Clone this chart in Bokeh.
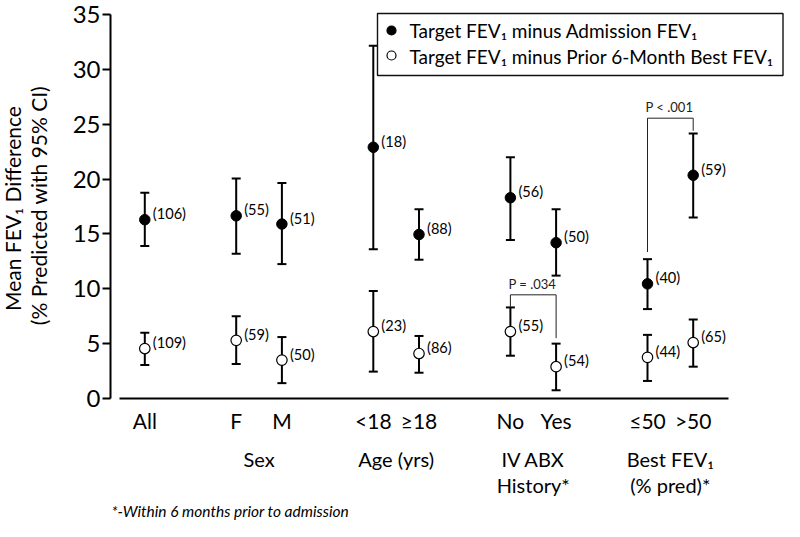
import math
from bokeh.plotting import figure
from bokeh.layouts import row
from bokeh.models import Range1d, FixedTicker, Whisker, ColumnDataSource, TeeHead
from bokeh.core.properties import value
from bokeh.embed import file_html
from bokeh.resources import INLINE

# ---------------- data ----------------
categories = ["All", "F", "M", "<18", "≥18", "No", "Yes", "≤50", ">50"]
cat_pos = [0, 2, 3, 5, 6, 8, 9, 11, 12]

adm_mean = [16.3, 16.65, 15.9, 22.9, 14.95, 18.3, 14.2, 10.45, 20.35]
adm_lower = [13.9, 13.2, 12.25, 13.6, 12.65, 14.45, 11.2, 8.15, 16.5]
adm_upper = [18.75, 20.05, 19.65, 32.15, 17.25, 22.0, 17.25, 12.7, 24.15]
adm_n = [106, 55, 51, 18, 88, 56, 50, 40, 59]

best_mean = [4.55, 5.3, 3.5, 6.1, 4.1, 6.1, 2.9, 3.75, 5.1]
best_lower = [3.05, 3.15, 1.4, 2.45, 2.35, 3.9, 0.75, 1.6, 2.9]
best_upper = [6.0, 7.5, 5.6, 9.8, 5.7, 8.3, 5.0, 5.8, 7.2]
best_n = [109, 59, 50, 23, 86, 55, 54, 44, 65]

group_line1 = ["Sex", "Age (yrs)", "IV ABX", "Best FEV₁"]
group_line2 = ["", "", "History*", "(% pred)*"]
group_pos = [2.5, 5.5, 8.5, 11.5]

y_ticks = [0, 5, 10, 15, 20, 25, 30, 35]

series_names = ["Target FEV₁ minus Admission FEV₁",
                "Target FEV₁ minus Prior 6-Month Best FEV₁"]

ylabel_lines = ["Mean FEV₁ Difference", "(% Predicted with 95% CI)"]

pval_text = ["P = .034", "P < .001"]
bracket_left_x = [8, 11]
bracket_right_x = [9, 12]
bracket_left_y = [8.3, 13.35]
bracket_top_y = [9.45, 25.55]
bracket_right_y = [5.5, 24.4]

footnote = "*-Within 6 months prior to admission"

FONT = "Lato"

# ---------------- layout helpers (canvas pixel -> data) ----------------
W, H = 784, 521
LW = 60                       # width of the narrow title strip on the left
FRAME_LEFT = 110              # canvas x of the y axis (whole layout)


def U(px):                    # canvas x -> category units
    return (px - 144.3) / 45.7


PPV = (398.0 - 14.0) / 35.0


def V(py):                    # canvas y -> value units
    return (398.0 - py) / PPV


# ---------------- y title strip ----------------
lab = figure(width=LW, height=H, x_range=Range1d(0, LW), y_range=Range1d(H, 0),
             output_backend="svg", toolbar_location=None,
             x_axis_location=None, y_axis_location=None, min_border=0)
lab.grid.visible = False
lab.outline_line_color = None
lab.text(x=[11.5, 38], y=[208, 205], text=ylabel_lines,
         angle=math.pi / 2, text_align="center", text_baseline="middle",
         text_font=value(FONT), text_font_size="21px", text_color="black")

# ---------------- main figure ----------------
p = figure(width=W - LW, height=H,
           x_range=Range1d(U(FRAME_LEFT), U(W)),
           y_range=Range1d(V(H), V(0)),
           output_backend="svg", toolbar_location=None,
           x_axis_location=None,
           min_border_left=FRAME_LEFT - LW, min_border_right=0,
           min_border_top=0, min_border_bottom=0)
p.grid.visible = False
p.outline_line_color = None
p.background_fill_color = "white"

ya = p.yaxis[0]
ya.ticker = FixedTicker(ticks=y_ticks)
ya.bounds = (0, 35)
ya.axis_line_width = 2
ya.major_tick_line_width = 2
ya.major_tick_out = 8
ya.major_tick_in = 0
ya.minor_tick_line_color = None
ya.major_label_text_font = FONT
ya.major_label_text_font_size = "24px"
ya.major_label_text_color = "black"
ya.major_label_standoff = 2
ya.axis_label = None

# x baseline
p.segment(x0=[U(119)], y0=[0], x1=[U(728)], y1=[0], line_width=2, line_color="black")

# ---------------- series ----------------
src_adm = ColumnDataSource(dict(x=cat_pos, mean=adm_mean, lower=adm_lower, upper=adm_upper,
                                label=[f"({n})" for n in adm_n]))
src_best = ColumnDataSource(dict(x=cat_pos, mean=best_mean, lower=best_lower, upper=best_upper,
                                 label=[f"({n})" for n in best_n]))

for src in (src_adm, src_best):
    w = Whisker(base="x", upper="upper", lower="lower", source=src, dimension="height",
                line_width=2, line_color="black",
                upper_head=TeeHead(size=9, line_width=2, line_color="black"),
                lower_head=TeeHead(size=9, line_width=2, line_color="black"))
    p.add_layout(w)

p.scatter("x", "mean", source=src_adm, marker="circle", size=10.5,
          fill_color="black", line_color="black", line_width=1)
p.scatter("x", "mean", source=src_best, marker="circle", size=10.5,
          fill_color="white", line_color="black", line_width=1.2)

for src in (src_adm, src_best):
    p.text("x", "mean", text="label", source=src, x_offset=8, y_offset=-6,
           text_align="left", text_baseline="middle",
           text_font=value(FONT), text_font_size="14.6px", text_color="black")

# ---------------- brackets ----------------
for i in range(len(pval_text)):
    p.line(x=[bracket_left_x[i], bracket_left_x[i], bracket_right_x[i], bracket_right_x[i]],
           y=[bracket_left_y[i], bracket_top_y[i], bracket_top_y[i], bracket_right_y[i]],
           line_width=1, line_color="#222222")
    p.text(x=[(bracket_left_x[i] + bracket_right_x[i]) / 2 - 0.02], y=[bracket_top_y[i]],
           text=[pval_text[i]], y_offset=-3, text_align="center", text_baseline="bottom",
           text_font=value(FONT), text_font_size="13px", text_color="#222222")

# ---------------- category labels ----------------
p.text(x=cat_pos, y=[V(420)] * len(cat_pos), text=categories,
       text_align="center", text_baseline="middle",
       text_font=value(FONT), text_font_size="21px", text_color="black")
p.text(x=group_pos, y=[V(458)] * len(group_pos), text=group_line1,
       text_align="center", text_baseline="middle",
       text_font=value(FONT), text_font_size="20px", text_color="black")
p.text(x=group_pos, y=[V(484)] * len(group_pos), text=group_line2,
       text_align="center", text_baseline="middle",
       text_font=value(FONT), text_font_size="20px", text_color="black")

p.text(x=[U(111)], y=[V(510)], text=[footnote], text_align="left",
       text_baseline="middle", text_font=value(FONT), text_font_style="italic",
       text_font_size="15.5px", text_color="black")

# ---------------- legend (drawn) ----------------
p.quad(left=[U(377)], right=[U(782.5)], top=[V(13)], bottom=[V(75)],
       fill_color="white", line_color="#111111", line_width=1.4)
p.scatter(x=[U(391)] * 2, y=[V(30), V(55)], marker="circle", size=9,
          fill_color=["black", "white"], line_color="black", line_width=1.2)
p.text(x=[U(409)] * 2, y=[V(30), V(55.5)], text=series_names, text_align="left",
       text_baseline="middle", text_font=value(FONT), text_font_size="19px",
       text_color="black")

layout = row(lab, p)
open("out.html", "w").write(file_html(layout, INLINE))
